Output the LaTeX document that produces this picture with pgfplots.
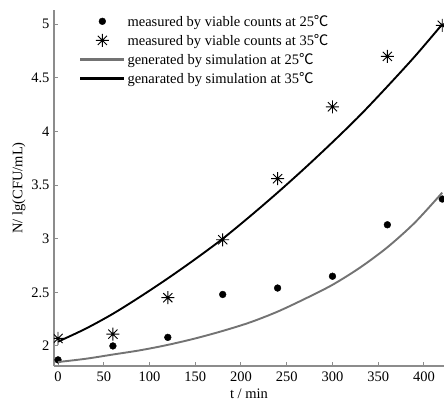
\documentclass[border=0pt]{standalone}
\usepackage{fontspec}
\setmainfont{Liberation Serif}
\newfontfamily\cjk{Noto Sans CJK SC}
\usepackage{pgfplots}
\pgfplotsset{compat=1.18}

% MATLAB-style eight-armed asterisk
\pgfdeclareplotmark{ast8}{%
  \pgfpathmoveto{\pgfqpoint{-\pgfplotmarksize}{0pt}}%
  \pgfpathlineto{\pgfqpoint{\pgfplotmarksize}{0pt}}%
  \pgfpathmoveto{\pgfqpoint{0pt}{-\pgfplotmarksize}}%
  \pgfpathlineto{\pgfqpoint{0pt}{\pgfplotmarksize}}%
  \pgfpathmoveto{\pgfqpoint{-.7071\pgfplotmarksize}{-.7071\pgfplotmarksize}}%
  \pgfpathlineto{\pgfqpoint{.7071\pgfplotmarksize}{.7071\pgfplotmarksize}}%
  \pgfpathmoveto{\pgfqpoint{-.7071\pgfplotmarksize}{.7071\pgfplotmarksize}}%
  \pgfpathlineto{\pgfqpoint{.7071\pgfplotmarksize}{-.7071\pgfplotmarksize}}%
  \pgfusepathqstroke}

\newcommand{\dC}{{\cjk ℃}}

\begin{document}
\begin{tikzpicture}
\begin{axis}[
    name=ax,
    scale only axis,
    width=390pt, height=356pt,
    xmin=-4.4, xmax=421.9,
    ymin=1.813, ymax=5.133,
    axis lines*=left,
    axis line style={draw=black!45, line width=1.1pt},
    tick style={draw=black!45, line width=1pt},
    tick align=inside,
    major tick length=4pt,
    xtick={0,50,...,400},
    ytick={2,2.5,...,5},
    /pgf/number format/assume math mode=true,
    tick label style={font=\fontsize{14.5}{16}\selectfont},
    xticklabel style={yshift=-2pt},
    yticklabel style={xshift=-1pt},
    label style={font=\fontsize{14.5}{16}\selectfont},
    xlabel={t / min},
    ylabel={N/ lg(CFU/mL)},
    xlabel style={yshift=-1pt},
    ylabel style={yshift=-1pt},
    clip marker paths=true,
    legend cell align=left,
    legend image code/.code={%
        \draw[mark repeat=2,mark phase=2] plot coordinates {(0pt,0pt) (22pt,0pt) (44pt,0pt)};},
    legend style={at={(0.064,0.992)}, anchor=north west, fill=none,
        font=\fontsize{14.5}{16}\selectfont, inner sep=0pt, row sep=2.5pt},
    every axis legend/.append style={draw=none},
]
\addplot[only marks, mark=*, mark size=3.4pt, black] coordinates {
    (0,1.87) (60,2.00) (120,2.08) (180,2.48) (240,2.54) (300,2.65) (360,3.13) (420,3.37)};
\addplot[only marks, mark=ast8, mark size=6.5pt, black, line width=0.9pt] coordinates {
    (0,2.07) (60,2.11) (120,2.45) (180,2.99) (240,3.56) (300,4.23) (360,4.70) (420,4.99)};
\addplot[black!55, line width=1.9pt, smooth,
         legend image code/.code={\draw[black!55, line width=2.4pt] (0pt,0pt) -- (44pt,0pt);}]
    coordinates {
    (0,1.85) (30,1.88) (60,1.92) (90,1.96) (120,2.01) (150,2.07) (180,2.14) (210,2.22)
    (240,2.32) (270,2.44) (300,2.57) (330,2.73) (360,2.92) (390,3.15) (420,3.43)};
\addplot[black, line width=1.9pt, smooth,
         legend image code/.code={\draw[black, line width=2.4pt] (0pt,0pt) -- (44pt,0pt);}]
    coordinates {
    (0,2.04) (30,2.16) (60,2.30) (90,2.46) (120,2.63) (150,2.81) (180,3.00) (210,3.21)
    (240,3.43) (270,3.66) (300,3.90) (330,4.15) (360,4.42) (390,4.70) (420,5.00)};
\legend{measured by viable counts at 25\dC, measured by viable counts at 35\dC,
        generated by simulation at 25\dC, genarated by simulation at 35\dC}
\end{axis}
\pgfresetboundingbox
\path[use as bounding box] ([shift={(-54pt,-39pt)}]ax.south west) rectangle ([shift={(0pt,10pt)}]ax.north east);
\end{tikzpicture}
\end{document}
